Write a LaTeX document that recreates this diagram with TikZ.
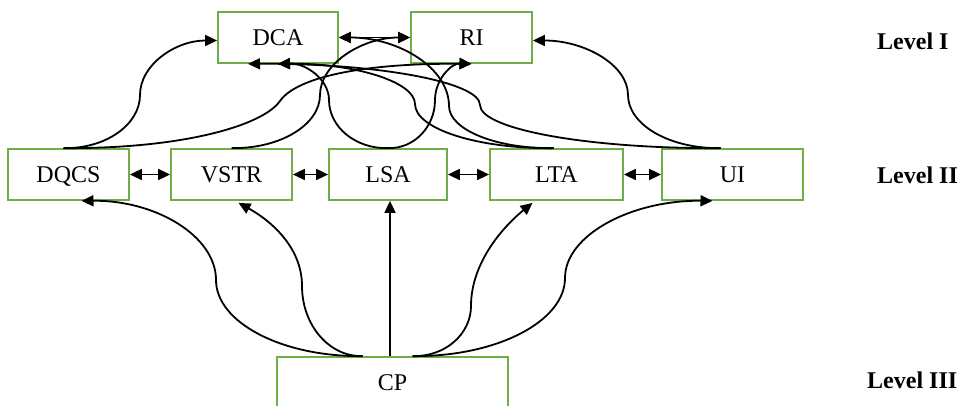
\documentclass[tikz,border=0pt]{standalone}
\usepackage{fontspec}
\setmainfont{Liberation Serif}
\usetikzlibrary{arrows.meta}
\definecolor{boxgreen}{RGB}{112,173,71}
\begin{document}
\begin{tikzpicture}[x=1pt,y=1pt,
  box/.style={draw=boxgreen, line width=1.8pt, minimum height=51pt, inner sep=0pt,
    font=\fontsize{24}{28}\selectfont, text height=16pt, text depth=0pt},
  lvl/.style={font=\fontsize{24}{28}\selectfont\bfseries, inner sep=0pt, anchor=west},
  arr/.style={line width=1.8pt, -{Triangle[length=12pt,width=11pt]}},
  dbl/.style={line width=1.8pt, {Triangle[length=12pt,width=11pt]}-{Triangle[length=12pt,width=11pt]}}]
\useasboundingbox (0,0) rectangle (965,406);
% Level I
\node[box, minimum width=120pt] (DCA) at (278,368.5) {DCA};
\node[box, minimum width=121pt] (RI) at (471.5,368.5) {RI};
% Level II
\node[box, minimum width=121pt] (DQCS) at (68.5,231.5) {DQCS};
\node[box, minimum width=121pt] (VSTR) at (231.5,231.5) {VSTR};
\node[box, minimum width=118pt] (LSA) at (388,231.5) {LSA};
\node[box, minimum width=133pt] (LTA) at (556.5,231.5) {LTA};
\node[box, minimum width=141pt] (UI) at (732.5,231.5) {UI};
% Level III
\begin{scope}
\clip (0,0) rectangle (965,406);
\node[box, minimum width=231pt, minimum height=52pt] (CP) at (392.5,23) {CP};
\end{scope}
% level labels
\node[lvl] (L1) at (877,365) {Level I};
\node[lvl] (L2) at (877,231) {Level II};
\node[lvl] (L3) at (867,26) {Level III};
% Level I links
\draw[dbl] (DCA.east) -- (RI.west);
\draw[arr] ([xshift=-5pt]DQCS.north) .. controls (105.6,257) and (140,281.3) .. (140,311) .. controls (140,341) and (175.1,365.5) .. ([yshift=-3pt]DCA.west);
\draw[arr] ([xshift=-5pt]DQCS.north) .. controls (182.5,257) and (262.8,280.4) .. (280,305) .. controls (297.2,329.6) and (366.5,343) .. (RI.south);
\draw[arr] (VSTR.north) .. controls (280.2,257) and (320,281.3) .. (320,311) .. controls (320,341.5) and (361,368.5) .. (RI.west);
\draw[arr] ([xshift=-3pt]LTA.north) .. controls (496,257) and (449,276.4) .. (449,300) .. controls (449,337.7) and (399,368.5) .. (DCA.east);
\draw[arr] (LSA.north) .. controls (355.5,257) and (329,279) .. (329,306) .. controls (329,326.4) and (306,343) .. (DCA.south);
\draw[arr] (LSA.north) .. controls (413.9,257) and (435,279) .. (435,306) .. controls (435,326.4) and (451.5,343) .. (RI.south);
\draw[arr] ([xshift=-3pt]LTA.north) .. controls (477.5,257) and (415,277.2) .. (415,302) .. controls (415,324.5) and (353,343) .. (DCA.south);
\draw[arr] ([xshift=-12pt]UI.north) .. controls (588.5,257) and (480,276.8) .. (480,301) .. controls (480,324.1) and (375.6,343) .. ([xshift=-30pt]DCA.south);
\draw[arr] ([xshift=-12pt]UI.north) .. controls (669.6,257) and (628,281.3) .. (628,311) .. controls (628,341) and (584.8,365.5) .. ([yshift=-3pt]RI.east);
% Level II links
\draw[dbl] (DQCS) -- (VSTR);
\draw[dbl] (VSTR) -- (LSA);
\draw[dbl] (LSA) -- (LTA);
\draw[dbl] (LTA) -- (UI);
% Level III links
\draw[arr] ([xshift=-30pt]CP.north) .. controls (281.9,49) and (216,83.6) .. (216,126) .. controls (216,170) and (155.5,206) .. ([xshift=13pt]DQCS.south);
\draw[arr] ([xshift=-30pt]CP.north) .. controls (329.2,49) and (302,81) .. (302,120) .. controls (302,160) and (268.8,186.5) .. ([xshift=7pt,yshift=-2pt]VSTR.south);
\draw[arr] ([xshift=-2.5pt]CP.north) -- ([xshift=2pt]LSA.south);
\draw[arr] ([xshift=20pt]CP.north) .. controls (445.2,49) and (471,72) .. (471,100) .. controls (471,145) and (505.7,181.5) .. ([xshift=-24pt,yshift=-2pt]LTA.south);
\draw[arr] ([xshift=20pt]CP.north) .. controls (496.4,49) and (565,84.5) .. (565,128) .. controls (565,170.9) and (631.4,206) .. ([xshift=-20pt]UI.south);
\end{tikzpicture}
\end{document}
